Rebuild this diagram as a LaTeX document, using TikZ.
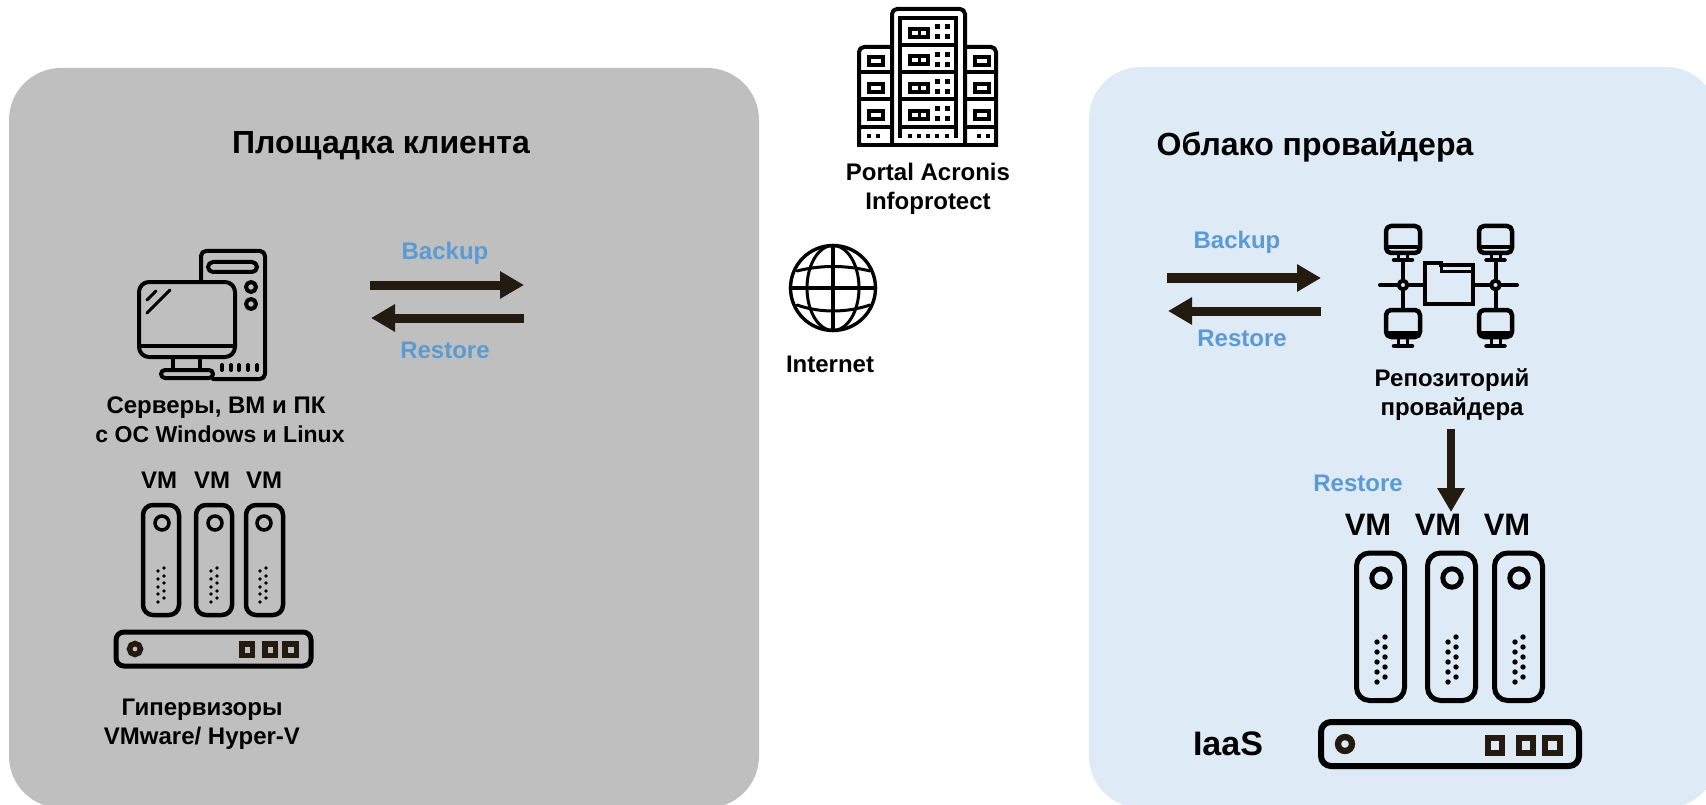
\documentclass[tikz,border=0pt]{standalone}
\usepackage{fontspec}
\setmainfont{Liberation Sans}
\usetikzlibrary{arrows.meta}
\definecolor{panelgray}{HTML}{BFBFBF}
\definecolor{panelblue}{HTML}{DEEAF6}
\definecolor{labelblue}{HTML}{5B9BD5}
\definecolor{arrowdark}{HTML}{231A10}
\tikzset{
  panel/.style={rounded corners=52pt},
  ttl/.style={font=\bfseries\fontsize{32}{36}\selectfont,inner sep=0pt,text=black},
  lbl/.style={font=\bfseries\fontsize{24}{29}\selectfont,inner sep=0pt,align=center,text=black},
  blbl/.style={font=\bfseries\fontsize{24}{29}\selectfont,inner sep=0pt,text=labelblue},
  bigl/.style={font=\bfseries\fontsize{31}{36}\selectfont,inner sep=0pt,text=black},
  fat/.style={draw=arrowdark,line width=9pt,-{Triangle[length=24pt,width=26pt]}},
  ico/.style={draw=black,line width=4pt,line join=round,line cap=round},
  srv/.style={draw=black,line width=4.5pt,rounded corners=10pt},
  srvb/.style={draw=black,line width=5pt,rounded corners=13pt},
}
\begin{document}
\begin{tikzpicture}[x=1pt,y=-1pt]
\useasboundingbox (0,0) rectangle (1706,805);
\clip (0,0) rectangle (1706,805);
\fill[white] (0,0) rectangle (1706,805);
% panels
\fill[panelgray,panel] (9,68) rectangle (759,808);
\fill[panelblue,panel] (1089,67) rectangle (1718,808);

% titles
\node[ttl] (t1) at (381,146) {Площадка клиента};
\node[ttl] (t2) at (1315,147) {Облако провайдера};

% building icon
\draw[ico,line cap=butt,rounded corners=5pt] (892,145) -- (892,9) -- (965,9) -- (965,145);
\draw[ico,line cap=butt,rounded corners=5pt] (892,47) -- (859,47) -- (859,147);
\draw[ico,line cap=butt,rounded corners=5pt] (965,47) -- (996,47) -- (996,147);
\draw[ico,line cap=butt] (857,145) -- (998,145);
\draw[ico,line cap=butt,line join=miter] (900,138) -- (900,18) -- (956,18) -- (956,138);
\foreach \yy in {45,72,99,127} \draw[ico,line cap=butt] (900,\yy) -- (956,\yy);
\foreach \yy in {72,99,127} {\draw[ico,line cap=butt] (859,\yy) -- (892,\yy); \draw[ico,line cap=butt] (965,\yy) -- (996,\yy);}
\foreach \yy in {0,27.3,54.6,81.9} {
  \fill[black] (908,27+\yy) rectangle (930,39+\yy);
  \fill[white] (912,31+\yy) rectangle (918,35+\yy);
  \fill[white] (921,31+\yy) rectangle (926,35+\yy);
  \foreach \xx in {937,947} \foreach \zz in {27,37} \fill[black] (\xx-2.5,\zz-2.5+\yy) rectangle (\xx+2.5,\zz+2.5+\yy);
}
\foreach \xx in {910,919,928,937,947} \fill[black] (\xx-2,134) rectangle (\xx+2,138);
\foreach \yy in {0,27,54} {
  \draw[black,line width=4pt] (869,57+\yy) rectangle (883,65+\yy);
  \draw[black,line width=4pt] (975,57+\yy) rectangle (989,65+\yy);
}
\foreach \xx in {869,878,979,988} \fill[black] (\xx-2,134) rectangle (\xx+2,138);
\node[lbl] (portal) at (928,189) {Portal Acronis\\Infoprotect};

% globe
\draw[ico,line width=3.4pt] (833,288) circle[radius=42.5];
\draw[ico,line width=3pt] (833,288) ellipse[x radius=26,y radius=42.5];
\draw[ico,line width=3.6pt] (833,245.5) -- (833,330.5);
\draw[ico,line width=3.6pt] (790.5,288) -- (875.5,288);
\draw[ico,line width=3pt] (797,271) .. controls (820,265) and (846,265) .. (870,271);
\draw[ico,line width=3pt] (797,305) .. controls (820,313) and (846,313) .. (870,305);
\node[lbl] (inet) at (830,364) {Internet};

% computer icon
\draw[ico,rounded corners=5pt] (201,282) -- (201,251) -- (265,251) -- (265,379) -- (213,379);
\draw[ico,rounded corners=5pt] (208,262) rectangle (257,272);
\draw[ico] (251,287) circle[radius=5];
\draw[ico] (251,304) circle[radius=5];
\draw[ico,rounded corners=10pt] (139,282) rectangle (235,357);
\draw[ico,line cap=butt] (139,346) -- (235,346);
\draw[ico,line cap=butt] (173,357) -- (173,370);
\draw[ico,line cap=butt] (200,357) -- (200,370);
\draw[ico,rounded corners=4pt] (161,370) rectangle (213,378);
\draw[ico,line width=3pt] (147,300) -- (156,291);
\draw[ico,line width=3pt] (147,313) -- (170,290);
\foreach \xx in {222,231,239,248,257} \draw[ico] (\xx,365) -- (\xx,370);
\node[lbl] (pc) at (220,420) {Серверы, ВМ и ПК\hspace*{8pt}\\\fontsize{23}{29}\selectfont с ОС Windows и Linux};

% left VMs
\foreach \xx/\lab in {159/a,212/b,264/c} \node[lbl] (vml\lab) at (\xx,480) {VM};
\foreach \xa/\xb/\xc in {143/179/162,196/232/215,246/283/264} {
  \draw[srv] (\xa,505) rectangle (\xb,615);
  \draw[black,line width=3.5pt] (\xc,523) circle[radius=7];
  \foreach \yy in {571,579,587,594,602} \fill[black] (\xc-4,\yy) circle[radius=1.9];
  \foreach \yy in {568,576,583,591,598} \fill[black] (\xc+2,\yy) circle[radius=1.9];
}
\draw[draw=black,line width=5pt,rounded corners=8pt] (116,632) rectangle (311,666);
\draw[arrowdark,line width=5.5pt] (135,649) circle[radius=5.5];
\foreach \xa/\xb in {239/255,262/278,282/299} \draw[arrowdark,line width=5.5pt] (\xa+2.75,643.75) rectangle (\xb-2.75,655.25);
\node[lbl] (hv) at (202,724) {Гипервизоры\\VMware/ Hyper-V};

% left arrows
\coordinate (lb1) at (370,285); \coordinate (lb2) at (524,285);
\coordinate (lr1) at (524,318); \coordinate (lr2) at (371,318);
\draw[fat] (lb1) -- (lb2);
\draw[fat] (lr1) -- (lr2);
\node[blbl] (lbk) at (445,253.5) {Backup};
\node[blbl] (lrs) at (445,350.5) {Restore};

% right arrows
\coordinate (rb1) at (1167,278); \coordinate (rb2) at (1321,278);
\coordinate (rr1) at (1321,311); \coordinate (rr2) at (1168,311);
\draw[fat] (rb1) -- (rb2);
\draw[fat] (rr1) -- (rr2);
\node[blbl] (rbk) at (1237,242.5) {Backup};
\node[blbl] (rrs) at (1242,338) {Restore};

% network icon
\foreach \xm/\xa/\xb in {1403/1386/1420,1495.5/1479/1512} {
  \draw[ico,line width=4.5pt,rounded corners=5pt] (\xa,226) rectangle (\xb,253);
  \draw[ico,line cap=butt] (\xa,247.5) -- (\xb,247.5);
  \draw[ico,line width=3pt,line cap=butt] (\xm-4.5,253) -- (\xm-4.5,260);
  \draw[ico,line width=3pt,line cap=butt] (\xm+4.5,253) -- (\xm+4.5,260);
  \draw[ico,line width=4.5pt] (\xm-9,260) -- (\xm+9,260);
  \draw[ico,line width=4.5pt,rounded corners=5pt] (\xa,310) rectangle (\xb,337);
  \draw[ico,line cap=butt] (\xa,333) -- (\xb,333);
  \draw[ico,line width=3pt,line cap=butt] (\xm-4.5,337) -- (\xm-4.5,346);
  \draw[ico,line width=3pt,line cap=butt] (\xm+4.5,337) -- (\xm+4.5,346);
  \draw[ico,line width=4.5pt] (\xm-9,346) -- (\xm+9,346);
  \draw[ico,line cap=butt] (\xm,260) -- (\xm,310);
}
\draw[ico] (1380,285) -- (1425,285);
\draw[ico] (1473,285) -- (1517,285);
\draw[ico,fill=panelblue] (1403,285) circle[radius=4.3];
\draw[ico,fill=panelblue] (1495.5,285) circle[radius=4.3];
\draw[ico,line width=4.5pt,line join=miter] (1425,304) -- (1425,263) -- (1441,263) -- (1441,265) -- (1473,265) -- (1473,304) -- cycle;
\draw[ico,line width=3pt,line cap=butt,line join=miter] (1441,264) -- (1441,272) -- (1473,272);
\node[lbl] (repo) at (1452,395) {Репозиторий\\провайдера};

% restore down arrow
\coordinate (rd1) at (1451,429); \coordinate (rd2) at (1451,512);
\node[blbl] (rrd) at (1358,483) {Restore};

% right VMs
\foreach \xx/\lab in {1368/a,1438/b,1507/c} \node[bigl] (vmr\lab) at (\xx,525) {VM};
\draw[fat,line width=8pt] (rd1) -- (rd2);
\foreach \xa/\xb/\xc in {1356.5/1404.5/1381,1427.5/1475.5/1452,1494.5/1542.5/1519} {
  \draw[srvb] (\xa,553) rectangle (\xb,700.5);
  \draw[black,line width=5pt] (\xc,578) circle[radius=9.2];
  \foreach \yy in {642,652,662,672,682} \fill[black] (\xc-4,\yy) circle[radius=2.7];
  \foreach \yy in {637,647,657,667,677} \fill[black] (\xc+4,\yy) circle[radius=2.7];
}
\draw[draw=black,line width=6pt,rounded corners=10pt] (1321,722) rectangle (1579,766);
\draw[arrowdark,line width=6.3pt] (1345,744) circle[radius=7];
\foreach \xa/\xb in {1485/1505,1516/1536,1542/1563} \draw[arrowdark,line width=6pt] (\xa+3,738) rectangle (\xb-3,753);
\node[bigl,font=\bfseries\fontsize{34}{36}\selectfont] (iaas) at (1228,744) {IaaS};
\end{tikzpicture}
\end{document}
